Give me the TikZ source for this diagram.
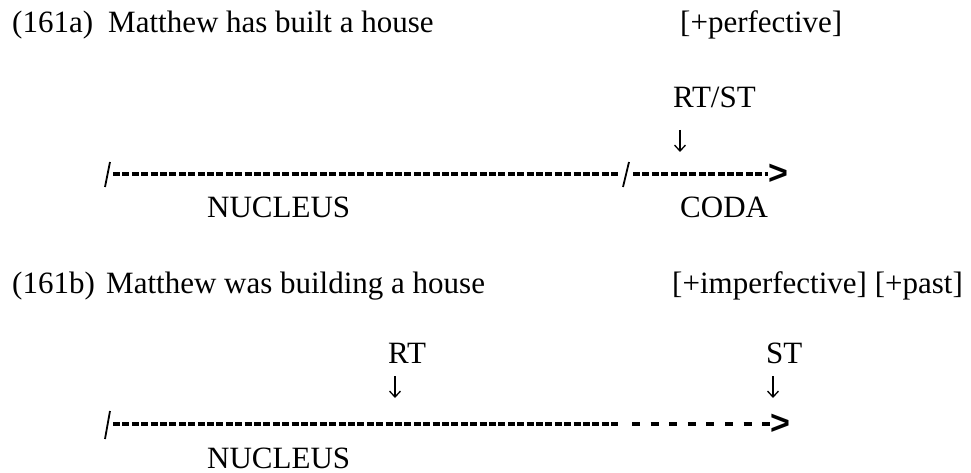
\documentclass[tikz,border=0pt]{standalone}
\usepackage{fontspec}
\setmainfont{Liberation Serif}
\newfontfamily\dashfont{Liberation Sans}
\usetikzlibrary{positioning,arrows.meta}

\begin{document}
\begin{tikzpicture}[x=1pt,y=-1pt,
     txt/.style={anchor=base west,inner sep=0pt,font=\fontsize{31}{37}\selectfont},
     pointer/.style={line width=1.3pt,-{Straight Barb[length=6pt,width=11pt]}},
     boundary/.style={line width=1.8pt},
     nucleusLine/.style={line width=3.3pt,dash pattern=on 7pt off 2.4pt},
     openLine/.style={line width=3.3pt,dash pattern=on 8pt off 10.6pt},
     lineEnd/.style={anchor=west,inner sep=0pt,font=\dashfont\bfseries\fontsize{34}{40}\selectfont},
   ]
   \useasboundingbox (0,0) rectangle (971,473);

   % (161a)
   \node[txt] (numa) at (12,33) {(161a)};
   \node[txt] (senta) at (108,33) {Matthew has built a house};
   \node[txt] (feata) at (680,33) {[+perfective]};
   \node[txt] (rtst) at (673,108) {RT/ST};
   \draw[pointer] ([xshift=7pt,yshift=-22pt]rtst.base west) -- ++(0,22);

   \coordinate (a0) at (113,174);
   \coordinate (a1) at (620,174);
   \coordinate (a2) at (633,174);
   \coordinate (a3) at (768,174);
   \draw[boundary] (105,187) -- (110,162);
   \draw[boundary] (623,187) -- (629,162);
   \draw[nucleusLine] (a0) -- (a1);
   \draw[nucleusLine] (a2) -- (a3);
   \node[lineEnd] (enda) at (a3) {>};

   \node[txt] (nucla) at (207,218) {NUCLEUS};
   \node[txt] (coda) at (680,218) {CODA};

   % (161b)
   \node[txt] (numb) at (12,293) {(161b)};
   \node[txt] (sentb) at (106,293) {Matthew was building a house};
   \node[txt] (featb) at (672,293) {[+imperfective] [+past]};
   \node[txt] (rt) at (388,363) {RT};
   \draw[pointer] ([xshift=7pt,yshift=-13pt]rt.base west) -- ++(0,22);
   \node[txt] (st) at (766,363) {ST};
   \draw[pointer] ([xshift=7pt,yshift=-13pt]st.base west) -- ++(0,22);

   \coordinate (b0) at (113,424);
   \coordinate (b1) at (620,424);
   \coordinate (b2) at (632,424);
   \coordinate (b3) at (770,424);
   \draw[boundary] (105,439) -- (110,411);
   \draw[nucleusLine] (b0) -- (b1);
   \draw[openLine] (b2) -- (b3);
   \node[lineEnd] (endb) at (b3) {>};

   \node[txt] (nuclb) at (207,468) {NUCLEUS};
\end{tikzpicture}
\end{document}
